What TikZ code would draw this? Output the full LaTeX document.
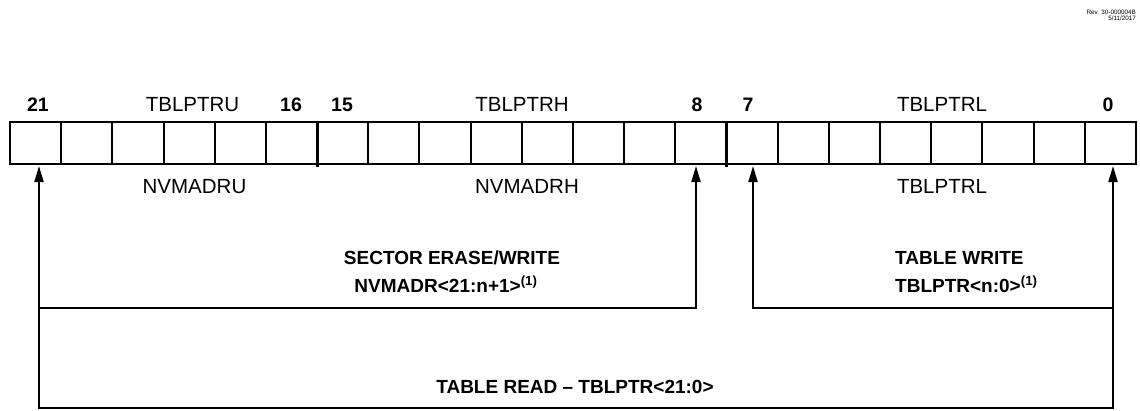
\documentclass[tikz,border=0pt]{standalone}
\usepackage{fontspec}
\setmainfont{Liberation Sans}
\usetikzlibrary{arrows.meta}
\begin{document}
\begin{tikzpicture}[x=1pt,y=-1pt,
  cell/.style={draw,line width=2pt,minimum width=51.18pt,minimum height=42pt,inner sep=0pt,outer sep=0pt},
  bytesep/.style={line width=3pt},
  conn/.style={line width=2pt},
  tiphead/.style={-{Triangle[length=16pt,width=9pt]}},
  tipboth/.style={{Triangle[length=16pt,width=9pt]}-{Triangle[length=16pt,width=9pt]}},
  num/.style={font=\fontsize{19.5}{19.5}\selectfont\bfseries,inner sep=0pt,anchor=base},
  reg/.style={font=\fontsize{20.5}{20.5}\selectfont,inner sep=0pt,anchor=base},
  captext/.style={font=\fontsize{19}{19}\selectfont\bfseries,inner sep=0pt},
  rev/.style={font=\fontsize{6.3}{6.3}\selectfont,inner sep=0pt,anchor=base east}]
\useasboundingbox (0,0) rectangle (1140,410);
% register cells
\foreach \i in {0,...,21}
  \node[cell] (c\i) at ({10+(21-\i+0.5)*51.182},143) {};
\draw[bytesep] (c16.north east) -- ([yshift=-3pt]c16.south east);
\draw[bytesep] (c8.north east) -- ([yshift=-3pt]c8.south east);
% arrow anchors
\coordinate (a21) at (39,166);
\coordinate (a8) at (696,166);
\coordinate (a7) at (753,166);
\coordinate (a0) at (1113,166);
\coordinate (bot) at (575,408);
\coordinate (sL) at (39,308);
\coordinate (wR) at (1113,308);
\draw[conn,tipboth] (a21) |- (bot) -| (a0);
\draw[conn,tiphead] (sL) -| (a8);
\draw[conn,tiphead] (wR) -| (a7);
% bit numbers
\node[num] (n21) at (38,111) {21};
\node[num] (n16) at (291,111) {16};
\node[num] (n15) at (342,111) {15};
\node[num] (n8) at (697,111) {8};
\node[num] (n7) at (748,111) {7};
\node[num] (n0) at (1108,111) {0};
% register names
\node[reg] (tu) at (192.5,111) {TBLPTRU};
\node[reg] (th) at (522,111) {TBLPTRH};
\node[reg] (tl) at (942,111) {TBLPTRL};
\node[reg] (nu) at (194.5,193) {NVMADRU};
\node[reg] (nh) at (527,193) {NVMADRH};
\node[reg] (tl2) at (942,193) {TBLPTRL};
% captions
\node[captext,anchor=base] (se1) at (452,264) {SECTOR ERASE/WRITE};
\node[captext,anchor=base] (se2) at (446,292) {NVMADR<21:n+1>\textsuperscript{(1)}};
\node[captext,anchor=base west] (tw1) at (895,264) {TABLE WRITE};
\node[captext,anchor=base west] (tw2) at (895,292) {TBLPTR<n:0>\textsuperscript{(1)}};
\node[captext,anchor=base] (tr) at (575,393) {TABLE READ – TBLPTR<21:0>};
% revision
\node[rev] (r1) at (1136,14) {Rev. 30-000004B};
\node[rev] (r2) at (1136,20.5) {5/11/2017};
\end{tikzpicture}
\end{document}
